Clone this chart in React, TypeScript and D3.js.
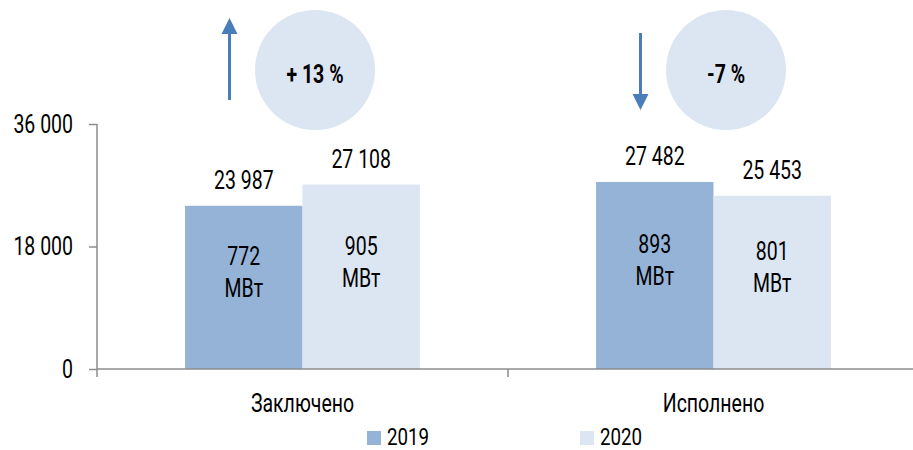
import * as React from "react";
import * as d3 from "d3";

const { useRef, useEffect } = React;

const categories = ["Заключено", "Исполнено"];
const years = ["2019", "2020"];
const values2019 = [23987, 27482];
const values2020 = [27108, 25453];
const power2019 = [772, 893];
const power2020 = [905, 801];
const changeLabels = ["+ 13 %", "-7 %"];
const changeUp = [true, false];
const yTicks = [0, 18000, 36000];
const powerUnit = "МВт";

const FONT = "Roboto, 'DejaVu Sans', sans-serif";
const SQ = 0.78; // horizontal squeeze to mimic a condensed face
const colors: Record<string, string> = { "2019": "#95b3d7", "2020": "#dce6f2" };
const axisColor = "#8c8c8c";
const arrowColor = "#4a7ebb";

const fmt = d3.formatLocale({ decimal: ",", thousands: " ", grouping: [3], currency: ["", ""] }).format(",d");

// condensed text helper: group carries position + squeeze
function label(parent: any, x: number, y: number, txt: string, anchor = "middle", size = 25, weight = 400) {
  parent.append("g")
    .attr("transform", "translate(" + x + "," + y + ") scale(" + SQ + ",1)")
    .append("text")
      .attr("text-anchor", anchor)
      .attr("font-family", FONT)
      .attr("font-size", size)
      .attr("font-weight", weight)
      .attr("fill", "#000")
      .text(txt);
}

export default function App() {
  const svgRef = useRef(null);

  useEffect(() => {
    const svg = d3.select(svgRef.current);
    svg.selectAll("*").remove();

    const data = categories.map((c, i) => ({
      cat: c,
      bars: [
        { year: years[0], value: values2019[i], power: power2019[i] },
        { year: years[1], value: values2020[i], power: power2020[i] },
      ],
    }));

    const x0 = d3.scaleBand().domain(categories).range([97, 919]).padding(0);
    const x1 = d3.scaleBand().domain(years).range([0, x0.bandwidth()]).paddingInner(0).paddingOuter(0.75);
    const y = d3.scaleLinear().domain([0, 36000]).range([369, 124]);

    // y axis ticks + labels
    const yAxis = svg.append("g")
      .attr("transform", "translate(97,0)")
      .call(d3.axisLeft(y).tickValues(yTicks).tickSize(8).tickSizeOuter(0).tickFormat((d: any) => fmt(d)));
    yAxis.select(".domain").remove();
    yAxis.selectAll("line").attr("stroke", axisColor).attr("stroke-width", 1.5);
    yAxis.selectAll("text")
      .attr("font-family", FONT)
      .attr("font-size", 25)
      .attr("fill", "#000")
      .attr("transform", "scale(" + SQ + ",1)")
      .attr("x", -24 / SQ)
      .attr("dy", "0.33em");

    // bars
    const groups = svg.append("g")
      .selectAll("g")
      .data(data)
      .enter().append("g")
        .attr("transform", d => "translate(" + x0(d.cat) + ",0)");

    groups.selectAll("rect")
      .data(d => d.bars)
      .enter().append("rect")
        .attr("x", d => x1(d.year)!)
        .attr("y", d => y(d.value))
        .attr("width", x1.bandwidth())
        .attr("height", d => y(0) - y(d.value))
        .attr("fill", d => colors[d.year]);

    groups.each(function (d) {
      const g = d3.select(this);
      d.bars.forEach(b => {
        const cx = x1(b.year)! + x1.bandwidth() / 2;
        label(g, cx, y(b.value) - 17, fmt(b.value));
        const mid = (y(b.value) + y(0)) / 2;
        label(g, cx, mid - 22, String(b.power));
        label(g, cx, mid + 10, powerUnit);
      });
    });

    // axes lines
    svg.append("line")
      .attr("x1", 97).attr("x2", 97).attr("y1", y(36000)).attr("y2", y(0) + 8)
      .attr("stroke", axisColor).attr("stroke-width", 1.5);
    svg.append("line")
      .attr("x1", 97).attr("x2", 913).attr("y1", y(0)).attr("y2", y(0))
      .attr("stroke", axisColor).attr("stroke-width", 1.5);
    svg.append("g")
      .selectAll("line")
      .data(categories.slice(1))
      .enter().append("line")
        .attr("x1", d => x0(d)!).attr("x2", d => x0(d)!)
        .attr("y1", y(0)).attr("y2", y(0) + 8)
        .attr("stroke", axisColor).attr("stroke-width", 1.5);

    // category labels
    categories.forEach(c => label(svg, x0(c)! + x0.bandwidth() / 2, 412, c));

    // change annotations: arrow + circle
    categories.forEach((c, i) => {
      const cx = x0(c)! + x0.bandwidth() / 2;
      const ax = cx - 73;
      svg.append("line")
        .attr("x1", ax).attr("x2", ax)
        .attr("y1", changeUp[i] ? 32 : 33).attr("y2", changeUp[i] ? 100 : 95)
        .attr("stroke", arrowColor).attr("stroke-width", 3);
      const tip = changeUp[i] ? 18 : 110;
      const base = changeUp[i] ? 34 : 94;
      svg.append("path")
        .attr("d", "M" + (ax - 8) + "," + base + "L" + ax + "," + tip + "L" + (ax + 8) + "," + base + "Z")
        .attr("fill", arrowColor);
      svg.append("circle")
        .attr("cx", cx + 12.5).attr("cy", 70).attr("r", 60)
        .attr("fill", "#dce6f2");
      label(svg, cx + 12.5, 83, changeLabels[i], "middle", 25, 700);
    });

    // legend
    years.forEach((yr, i) => {
      const lx = i === 0 ? 367 : 580;
      svg.append("rect")
        .attr("x", lx).attr("y", 431).attr("width", 14).attr("height", 14)
        .attr("fill", colors[yr]);
      label(svg, lx + 20, 445, yr, "start", 24);
    });
  }, []);

  return (
    <svg ref={svgRef} width={913} height={450} style={{ position: "absolute", left: 0, top: 0, background: "#fff" }}>
    </svg>
  );
}
